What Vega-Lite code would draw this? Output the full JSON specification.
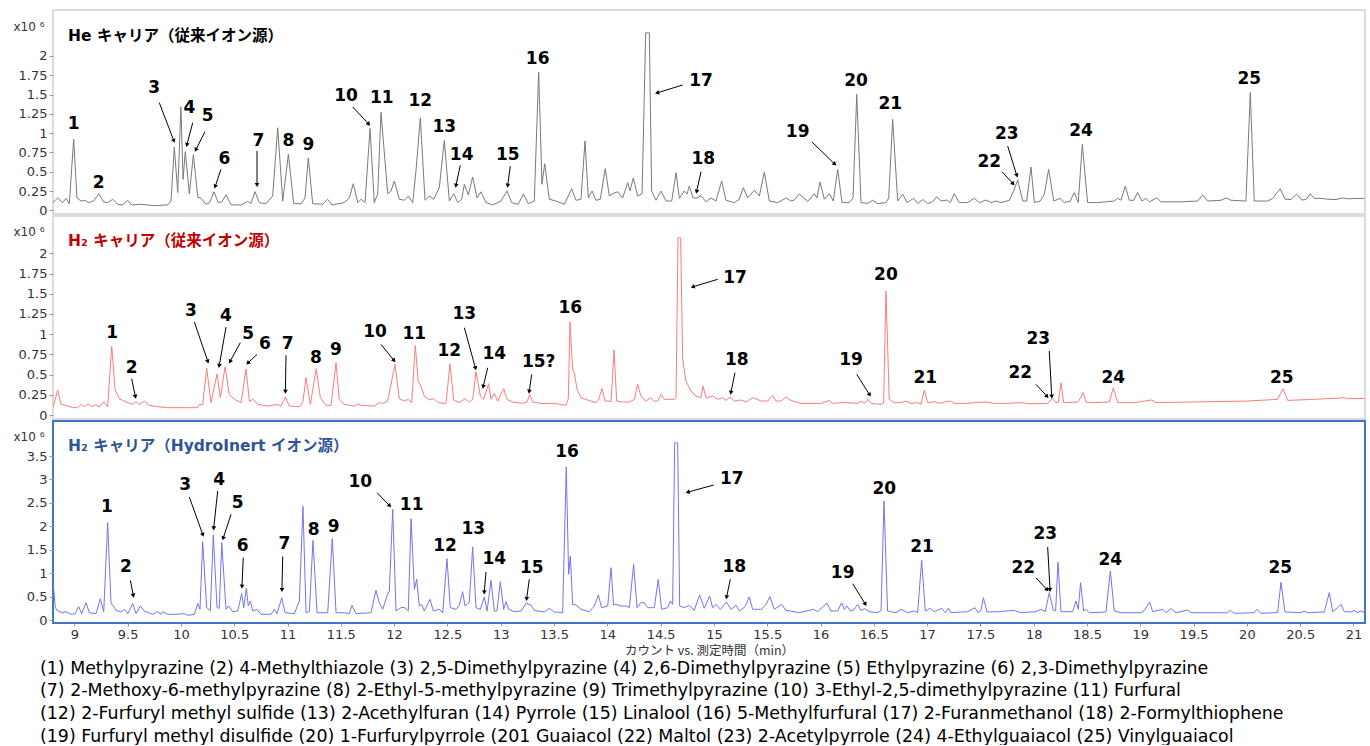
{
"$schema":"https://vega.github.io/schema/vega-lite/v6.json",
"padding":{"left":12,"top":9,"right":5,"bottom":0},
"background":"white",
"spacing":2,
"bounds":"flush",
"config":{"font":"DejaVu Sans","view":{"stroke":null}},
"title":{"text":["(1) Methylpyrazine (2) 4-Methylthiazole (3) 2,5-Dimethylpyrazine (4) 2,6-Dimethylpyrazine (5) Ethylpyrazine (6) 2,3-Dimethylpyrazine","(7) 2-Methoxy-6-methylpyrazine (8) 2-Ethyl-5-methylpyrazine  (9) Trimethylpyrazine (10) 3-Ethyl-2,5-dimethylpyrazine (11) Furfural","(12) 2-Furfuryl methyl sulfide (13) 2-Acethylfuran (14) Pyrrole (15) Linalool (16) 5-Methylfurfural (17) 2-Furanmethanol (18) 2-Formylthiophene","(19) Furfuryl methyl disulfide (20) 1-Furfurylpyrrole (201 Guaiacol (22) Maltol (23) 2-Acetylpyrrole (24) 4-Ethylguaiacol (25) Vinylguaiacol"],"orient":"bottom","anchor":"start","frame":"bounds","dx":28,"offset":2,"fontSize":17.4,"fontWeight":"normal","font":"DejaVu Sans","color":"#000","lineHeight":22.7},
"datasets":{
"he":[{"t":8.80,"v":0.10},{"t":8.844,"v":0.16},{"t":8.891,"v":0.10},{"t":8.922,"v":0.155},{"t":8.953,"v":0.086},{"t":8.994,"v":0.92},{"t":9.025,"v":0.16},{"t":9.063,"v":0.12},{"t":9.10,"v":0.13},{"t":9.131,"v":0.10},{"t":9.18,"v":0.12},{"t":9.23,"v":0.215},{"t":9.276,"v":0.108},{"t":9.313,"v":0.10},{"t":9.36,"v":0.143},{"t":9.407,"v":0.078},{"t":9.454,"v":0.07},{"t":9.50,"v":0.13},{"t":9.538,"v":0.07},{"t":9.626,"v":0.078},{"t":9.75,"v":0.06},{"t":9.876,"v":0.07},{"t":9.907,"v":0.12},{"t":9.938,"v":0.82},{"t":9.97,"v":0.23},{"t":10.0,"v":1.34},{"t":10.02,"v":0.40},{"t":10.041,"v":0.76},{"t":10.079,"v":0.21},{"t":10.117,"v":0.72},{"t":10.158,"v":0.17},{"t":10.19,"v":0.155},{"t":10.235,"v":0.078},{"t":10.27,"v":0.10},{"t":10.31,"v":0.24},{"t":10.35,"v":0.10},{"t":10.383,"v":0.11},{"t":10.423,"v":0.20},{"t":10.47,"v":0.07},{"t":10.564,"v":0.07},{"t":10.627,"v":0.115},{"t":10.657,"v":0.086},{"t":10.695,"v":0.24},{"t":10.735,"v":0.10},{"t":10.798,"v":0.086},{"t":10.861,"v":0.185},{"t":10.908,"v":1.07},{"t":10.955,"v":0.12},{"t":11.008,"v":0.726},{"t":11.058,"v":0.086},{"t":11.127,"v":0.086},{"t":11.164,"v":0.16},{"t":11.195,"v":0.68},{"t":11.236,"v":0.086},{"t":11.33,"v":0.078},{"t":11.377,"v":0.143},{"t":11.417,"v":0.07},{"t":11.533,"v":0.10},{"t":11.58,"v":0.16},{"t":11.617,"v":0.345},{"t":11.659,"v":0.10},{"t":11.69,"v":0.143},{"t":11.727,"v":0.10},{"t":11.774,"v":1.058},{"t":11.814,"v":0.10},{"t":11.846,"v":0.21},{"t":11.877,"v":1.27},{"t":11.94,"v":0.215},{"t":11.971,"v":0.25},{"t":12.002,"v":0.38},{"t":12.049,"v":0.143},{"t":12.096,"v":0.13},{"t":12.133,"v":0.185},{"t":12.175,"v":0.10},{"t":12.205,"v":0.51},{"t":12.246,"v":1.20},{"t":12.29,"v":0.13},{"t":12.33,"v":0.185},{"t":12.371,"v":0.143},{"t":12.424,"v":0.293},{"t":12.471,"v":0.907},{"t":12.518,"v":0.12},{"t":12.559,"v":0.215},{"t":12.597,"v":0.10},{"t":12.634,"v":0.143},{"t":12.659,"v":0.337},{"t":12.696,"v":0.20},{"t":12.737,"v":0.432},{"t":12.778,"v":0.16},{"t":12.815,"v":0.24},{"t":12.862,"v":0.10},{"t":12.925,"v":0.07},{"t":13.003,"v":0.12},{"t":13.059,"v":0.25},{"t":13.103,"v":0.10},{"t":13.165,"v":0.078},{"t":13.212,"v":0.21},{"t":13.259,"v":0.086},{"t":13.315,"v":0.12},{"t":13.356,"v":1.79},{"t":13.387,"v":0.337},{"t":13.413,"v":0.604},{"t":13.456,"v":0.143},{"t":13.519,"v":0.12},{"t":13.597,"v":0.078},{"t":13.666,"v":0.28},{"t":13.706,"v":0.13},{"t":13.753,"v":0.143},{"t":13.791,"v":0.898},{"t":13.822,"v":0.16},{"t":13.857,"v":0.25},{"t":13.894,"v":0.13},{"t":13.934,"v":0.143},{"t":13.981,"v":0.54},{"t":14.019,"v":0.185},{"t":14.05,"v":0.215},{"t":14.097,"v":0.24},{"t":14.144,"v":0.16},{"t":14.191,"v":0.358},{"t":14.213,"v":0.25},{"t":14.244,"v":0.42},{"t":14.285,"v":0.185},{"t":14.326,"v":0.215},{"t":14.36,"v":2.30},{"t":14.394,"v":2.30},{"t":14.416,"v":0.25},{"t":14.457,"v":0.13},{"t":14.504,"v":0.25},{"t":14.551,"v":0.12},{"t":14.604,"v":0.12},{"t":14.645,"v":0.487},{"t":14.676,"v":0.155},{"t":14.722,"v":0.25},{"t":14.748,"v":0.21},{"t":14.77,"v":0.315},{"t":14.801,"v":0.17},{"t":14.832,"v":0.155},{"t":14.879,"v":0.19},{"t":14.926,"v":0.11},{"t":14.973,"v":0.16},{"t":15.02,"v":0.12},{"t":15.073,"v":0.38},{"t":15.113,"v":0.13},{"t":15.191,"v":0.10},{"t":15.238,"v":0.143},{"t":15.276,"v":0.293},{"t":15.317,"v":0.16},{"t":15.379,"v":0.26},{"t":15.426,"v":0.185},{"t":15.473,"v":0.496},{"t":15.52,"v":0.12},{"t":15.598,"v":0.10},{"t":15.677,"v":0.16},{"t":15.723,"v":0.12},{"t":15.754,"v":0.133},{"t":15.801,"v":0.21},{"t":15.88,"v":0.115},{"t":15.942,"v":0.215},{"t":15.967,"v":0.16},{"t":15.995,"v":0.366},{"t":16.036,"v":0.143},{"t":16.083,"v":0.215},{"t":16.12,"v":0.12},{"t":16.161,"v":0.53},{"t":16.202,"v":0.10},{"t":16.27,"v":0.10},{"t":16.305,"v":0.16},{"t":16.34,"v":1.503},{"t":16.38,"v":0.10},{"t":16.443,"v":0.09},{"t":16.49,"v":0.13},{"t":16.537,"v":0.086},{"t":16.614,"v":0.10},{"t":16.64,"v":0.16},{"t":16.677,"v":1.18},{"t":16.724,"v":0.12},{"t":16.771,"v":0.21},{"t":16.811,"v":0.10},{"t":16.874,"v":0.155},{"t":16.912,"v":0.086},{"t":16.959,"v":0.14},{"t":17.006,"v":0.086},{"t":17.052,"v":0.11},{"t":17.09,"v":0.175},{"t":17.13,"v":0.12},{"t":17.187,"v":0.133},{"t":17.218,"v":0.10},{"t":17.255,"v":0.215},{"t":17.302,"v":0.10},{"t":17.381,"v":0.10},{"t":17.443,"v":0.155},{"t":17.49,"v":0.10},{"t":17.553,"v":0.133},{"t":17.60,"v":0.10},{"t":17.646,"v":0.12},{"t":17.693,"v":0.10},{"t":17.771,"v":0.13},{"t":17.812,"v":0.25},{"t":17.85,"v":0.393},{"t":17.897,"v":0.12},{"t":17.934,"v":0.12},{"t":17.975,"v":0.561},{"t":18.006,"v":0.10},{"t":18.062,"v":0.12},{"t":18.10,"v":0.21},{"t":18.14,"v":0.53},{"t":18.188,"v":0.12},{"t":18.247,"v":0.155},{"t":18.287,"v":0.10},{"t":18.343,"v":0.12},{"t":18.381,"v":0.23},{"t":18.418,"v":0.10},{"t":18.456,"v":0.855},{"t":18.506,"v":0.10},{"t":18.60,"v":0.10},{"t":18.756,"v":0.12},{"t":18.788,"v":0.155},{"t":18.819,"v":0.13},{"t":18.859,"v":0.315},{"t":18.897,"v":0.13},{"t":18.938,"v":0.13},{"t":18.975,"v":0.23},{"t":19.016,"v":0.12},{"t":19.053,"v":0.155},{"t":19.085,"v":0.11},{"t":19.157,"v":0.16},{"t":19.194,"v":0.11},{"t":19.382,"v":0.11},{"t":19.538,"v":0.12},{"t":19.585,"v":0.20},{"t":19.632,"v":0.12},{"t":19.757,"v":0.13},{"t":19.804,"v":0.16},{"t":19.851,"v":0.13},{"t":19.991,"v":0.12},{"t":20.032,"v":1.525},{"t":20.069,"v":0.12},{"t":20.195,"v":0.12},{"t":20.242,"v":0.155},{"t":20.313,"v":0.28},{"t":20.358,"v":0.143},{"t":20.414,"v":0.14},{"t":20.467,"v":0.21},{"t":20.514,"v":0.133},{"t":20.554,"v":0.14},{"t":20.595,"v":0.215},{"t":20.632,"v":0.155},{"t":20.695,"v":0.155},{"t":20.758,"v":0.143},{"t":20.836,"v":0.14},{"t":20.899,"v":0.16},{"t":20.946,"v":0.15},{"t":21.102,"v":0.155}],
"h2":[{"t":8.80,"v":0.091},{"t":8.844,"v":0.309},{"t":8.875,"v":0.132},{"t":8.938,"v":0.111},{"t":8.985,"v":0.091},{"t":9.032,"v":0.091},{"t":9.063,"v":0.132},{"t":9.094,"v":0.103},{"t":9.131,"v":0.14},{"t":9.163,"v":0.103},{"t":9.204,"v":0.128},{"t":9.235,"v":0.099},{"t":9.276,"v":0.165},{"t":9.313,"v":0.103},{"t":9.351,"v":0.853},{"t":9.382,"v":0.317},{"t":9.422,"v":0.202},{"t":9.485,"v":0.161},{"t":9.548,"v":0.132},{"t":9.579,"v":0.165},{"t":9.61,"v":0.132},{"t":9.657,"v":0.173},{"t":9.704,"v":0.12},{"t":9.782,"v":0.103},{"t":9.876,"v":0.091},{"t":10.032,"v":0.091},{"t":10.158,"v":0.091},{"t":10.173,"v":0.132},{"t":10.204,"v":0.132},{"t":10.242,"v":0.577},{"t":10.282,"v":0.153},{"t":10.339,"v":0.507},{"t":10.37,"v":0.214},{"t":10.414,"v":0.594},{"t":10.454,"v":0.256},{"t":10.501,"v":0.194},{"t":10.564,"v":0.153},{"t":10.611,"v":0.569},{"t":10.642,"v":0.173},{"t":10.679,"v":0.194},{"t":10.72,"v":0.132},{"t":10.814,"v":0.111},{"t":10.908,"v":0.132},{"t":10.939,"v":0.111},{"t":10.98,"v":0.223},{"t":11.017,"v":0.111},{"t":11.111,"v":0.103},{"t":11.143,"v":0.153},{"t":11.174,"v":0.462},{"t":11.214,"v":0.132},{"t":11.27,"v":0.573},{"t":11.308,"v":0.214},{"t":11.361,"v":0.12},{"t":11.408,"v":0.12},{"t":11.455,"v":0.647},{"t":11.486,"v":0.186},{"t":11.533,"v":0.132},{"t":11.627,"v":0.111},{"t":11.659,"v":0.14},{"t":11.69,"v":0.12},{"t":11.814,"v":0.111},{"t":11.861,"v":0.153},{"t":11.893,"v":0.144},{"t":11.94,"v":0.173},{"t":12.008,"v":0.627},{"t":12.049,"v":0.202},{"t":12.096,"v":0.173},{"t":12.133,"v":0.194},{"t":12.165,"v":0.153},{"t":12.199,"v":0.862},{"t":12.227,"v":0.40},{"t":12.246,"v":0.379},{"t":12.283,"v":0.235},{"t":12.33,"v":0.186},{"t":12.371,"v":0.202},{"t":12.415,"v":0.153},{"t":12.487,"v":0.144},{"t":12.524,"v":0.635},{"t":12.559,"v":0.186},{"t":12.612,"v":0.153},{"t":12.665,"v":0.202},{"t":12.705,"v":0.161},{"t":12.737,"v":0.194},{"t":12.768,"v":0.536},{"t":12.809,"v":0.235},{"t":12.84,"v":0.194},{"t":12.887,"v":0.388},{"t":12.909,"v":0.194},{"t":12.94,"v":0.268},{"t":12.971,"v":0.173},{"t":13.028,"v":0.326},{"t":13.059,"v":0.194},{"t":13.112,"v":0.161},{"t":13.206,"v":0.144},{"t":13.247,"v":0.161},{"t":13.272,"v":0.252},{"t":13.3,"v":0.161},{"t":13.378,"v":0.144},{"t":13.503,"v":0.144},{"t":13.613,"v":0.12},{"t":13.634,"v":0.2},{"t":13.65,"v":1.15},{"t":13.675,"v":0.557},{"t":13.69,"v":0.524},{"t":13.716,"v":0.317},{"t":13.753,"v":0.214},{"t":13.815,"v":0.186},{"t":13.894,"v":0.153},{"t":13.916,"v":0.181},{"t":13.95,"v":0.326},{"t":13.979,"v":0.173},{"t":14.035,"v":0.169},{"t":14.063,"v":0.804},{"t":14.088,"v":0.173},{"t":14.144,"v":0.161},{"t":14.207,"v":0.161},{"t":14.254,"v":0.194},{"t":14.284,"v":0.379},{"t":14.316,"v":0.235},{"t":14.363,"v":0.173},{"t":14.406,"v":0.214},{"t":14.435,"v":0.173},{"t":14.473,"v":0.173},{"t":14.504,"v":0.256},{"t":14.535,"v":0.194},{"t":14.629,"v":0.194},{"t":14.645,"v":0.214},{"t":14.663,"v":2.19},{"t":14.688,"v":2.19},{"t":14.707,"v":0.689},{"t":14.738,"v":0.42},{"t":14.785,"v":0.297},{"t":14.832,"v":0.235},{"t":14.879,"v":0.214},{"t":14.898,"v":0.359},{"t":14.926,"v":0.214},{"t":14.988,"v":0.235},{"t":15.035,"v":0.194},{"t":15.082,"v":0.214},{"t":15.113,"v":0.181},{"t":15.154,"v":0.223},{"t":15.191,"v":0.173},{"t":15.254,"v":0.186},{"t":15.301,"v":0.161},{"t":15.363,"v":0.214},{"t":15.395,"v":0.202},{"t":15.441,"v":0.173},{"t":15.504,"v":0.173},{"t":15.551,"v":0.243},{"t":15.582,"v":0.173},{"t":15.629,"v":0.173},{"t":15.676,"v":0.223},{"t":15.723,"v":0.181},{"t":15.817,"v":0.144},{"t":16.005,"v":0.144},{"t":16.083,"v":0.181},{"t":16.114,"v":0.144},{"t":16.193,"v":0.153},{"t":16.255,"v":0.153},{"t":16.348,"v":0.144},{"t":16.386,"v":0.173},{"t":16.411,"v":0.144},{"t":16.442,"v":0.194},{"t":16.474,"v":0.144},{"t":16.568,"v":0.132},{"t":16.592,"v":0.15},{"t":16.614,"v":1.534},{"t":16.645,"v":0.194},{"t":16.692,"v":0.153},{"t":16.755,"v":0.153},{"t":16.802,"v":0.173},{"t":16.849,"v":0.144},{"t":16.911,"v":0.153},{"t":16.943,"v":0.132},{"t":16.974,"v":0.309},{"t":17.004,"v":0.153},{"t":17.067,"v":0.165},{"t":17.13,"v":0.144},{"t":17.161,"v":0.161},{"t":17.218,"v":0.173},{"t":17.255,"v":0.144},{"t":17.38,"v":0.144},{"t":17.443,"v":0.153},{"t":17.553,"v":0.161},{"t":17.63,"v":0.144},{"t":17.755,"v":0.144},{"t":17.865,"v":0.153},{"t":17.975,"v":0.14},{"t":18.131,"v":0.144},{"t":18.178,"v":0.202},{"t":18.209,"v":0.153},{"t":18.231,"v":0.16},{"t":18.256,"v":0.40},{"t":18.281,"v":0.153},{"t":18.412,"v":0.161},{"t":18.428,"v":0.186},{"t":18.465,"v":0.276},{"t":18.49,"v":0.161},{"t":18.568,"v":0.153},{"t":18.709,"v":0.161},{"t":18.747,"v":0.338},{"t":18.788,"v":0.153},{"t":18.944,"v":0.153},{"t":19.107,"v":0.186},{"t":19.147,"v":0.153},{"t":19.476,"v":0.161},{"t":20.007,"v":0.173},{"t":20.288,"v":0.194},{"t":20.339,"v":0.326},{"t":20.382,"v":0.181},{"t":20.632,"v":0.194},{"t":20.914,"v":0.214},{"t":20.945,"v":0.202},{"t":21.108,"v":0.206}],
"hi":[{"t":8.80,"v":0.83},{"t":8.822,"v":0.263},{"t":8.844,"v":0.192},{"t":8.891,"v":0.156},{"t":8.922,"v":0.178},{"t":8.969,"v":0.121},{"t":9.007,"v":0.135},{"t":9.041,"v":0.284},{"t":9.069,"v":0.135},{"t":9.11,"v":0.37},{"t":9.141,"v":0.156},{"t":9.204,"v":0.135},{"t":9.244,"v":0.455},{"t":9.276,"v":0.178},{"t":9.313,"v":2.077},{"t":9.344,"v":0.37},{"t":9.391,"v":0.206},{"t":9.438,"v":0.171},{"t":9.469,"v":0.228},{"t":9.501,"v":0.135},{"t":9.548,"v":0.349},{"t":9.579,"v":0.135},{"t":9.619,"v":0.299},{"t":9.657,"v":0.192},{"t":9.735,"v":0.121},{"t":9.782,"v":0.178},{"t":9.813,"v":0.121},{"t":9.829,"v":0.178},{"t":9.876,"v":0.121},{"t":9.938,"v":0.121},{"t":10.032,"v":0.135},{"t":10.064,"v":0.1},{"t":10.126,"v":0.121},{"t":10.158,"v":0.349},{"t":10.179,"v":0.228},{"t":10.204,"v":1.672},{"t":10.242,"v":0.263},{"t":10.276,"v":0.2},{"t":10.304,"v":1.814},{"t":10.339,"v":0.263},{"t":10.36,"v":0.25},{"t":10.383,"v":1.65},{"t":10.423,"v":0.228},{"t":10.448,"v":0.299},{"t":10.486,"v":0.178},{"t":10.533,"v":0.192},{"t":10.57,"v":0.562},{"t":10.589,"v":0.263},{"t":10.614,"v":0.676},{"t":10.632,"v":0.299},{"t":10.651,"v":0.405},{"t":10.674,"v":0.192},{"t":10.714,"v":0.228},{"t":10.751,"v":0.121},{"t":10.845,"v":0.121},{"t":10.876,"v":0.228},{"t":10.902,"v":0.135},{"t":10.946,"v":0.477},{"t":10.977,"v":0.156},{"t":11.064,"v":0.135},{"t":11.111,"v":0.405},{"t":11.145,"v":2.426},{"t":11.174,"v":0.156},{"t":11.205,"v":0.18},{"t":11.239,"v":1.7},{"t":11.277,"v":0.156},{"t":11.377,"v":0.156},{"t":11.42,"v":1.736},{"t":11.455,"v":0.156},{"t":11.533,"v":0.156},{"t":11.58,"v":0.135},{"t":11.605,"v":0.313},{"t":11.643,"v":0.135},{"t":11.783,"v":0.156},{"t":11.83,"v":0.633},{"t":11.861,"v":0.37},{"t":11.893,"v":0.228},{"t":11.933,"v":0.512},{"t":11.955,"v":0.619},{"t":11.987,"v":2.362},{"t":12.018,"v":0.192},{"t":12.065,"v":0.263},{"t":12.096,"v":0.27},{"t":12.133,"v":0.192},{"t":12.159,"v":2.163},{"t":12.19,"v":0.654},{"t":12.212,"v":0.868},{"t":12.236,"v":0.299},{"t":12.259,"v":0.334},{"t":12.283,"v":0.192},{"t":12.337,"v":0.441},{"t":12.368,"v":0.192},{"t":12.424,"v":0.228},{"t":12.456,"v":0.156},{"t":12.496,"v":1.309},{"t":12.527,"v":0.263},{"t":12.581,"v":0.228},{"t":12.612,"v":0.32},{"t":12.643,"v":0.605},{"t":12.665,"v":0.299},{"t":12.69,"v":0.349},{"t":12.705,"v":0.37},{"t":12.737,"v":1.558},{"t":12.768,"v":0.263},{"t":12.809,"v":0.228},{"t":12.846,"v":0.491},{"t":12.872,"v":0.192},{"t":12.909,"v":0.847},{"t":12.94,"v":0.192},{"t":12.965,"v":0.192},{"t":12.996,"v":0.818},{"t":13.028,"v":0.228},{"t":13.05,"v":0.391},{"t":13.075,"v":0.228},{"t":13.128,"v":0.178},{"t":13.191,"v":0.192},{"t":13.244,"v":0.37},{"t":13.263,"v":0.32},{"t":13.279,"v":0.334},{"t":13.315,"v":0.206},{"t":13.409,"v":0.171},{"t":13.456,"v":0.249},{"t":13.503,"v":0.171},{"t":13.581,"v":0.156},{"t":13.615,"v":3.265},{"t":13.637,"v":0.975},{"t":13.653,"v":1.366},{"t":13.675,"v":0.334},{"t":13.706,"v":0.32},{"t":13.753,"v":0.228},{"t":13.831,"v":0.178},{"t":13.878,"v":0.299},{"t":13.916,"v":0.534},{"t":13.947,"v":0.263},{"t":14.004,"v":0.299},{"t":14.035,"v":1.117},{"t":14.059,"v":0.32},{"t":14.082,"v":0.334},{"t":14.129,"v":0.299},{"t":14.176,"v":0.299},{"t":14.207,"v":0.263},{"t":14.247,"v":1.188},{"t":14.279,"v":0.263},{"t":14.316,"v":0.37},{"t":14.347,"v":0.37},{"t":14.378,"v":0.263},{"t":14.441,"v":0.263},{"t":14.478,"v":0.868},{"t":14.509,"v":0.228},{"t":14.566,"v":0.263},{"t":14.591,"v":0.405},{"t":14.613,"v":0.334},{"t":14.632,"v":3.78},{"t":14.66,"v":3.78},{"t":14.679,"v":0.299},{"t":14.723,"v":0.263},{"t":14.77,"v":0.313},{"t":14.816,"v":0.206},{"t":14.866,"v":0.534},{"t":14.91,"v":0.249},{"t":14.96,"v":0.512},{"t":14.988,"v":0.263},{"t":15.02,"v":0.334},{"t":15.061,"v":0.228},{"t":15.117,"v":0.384},{"t":15.161,"v":0.228},{"t":15.208,"v":0.313},{"t":15.239,"v":0.192},{"t":15.292,"v":0.284},{"t":15.332,"v":0.491},{"t":15.363,"v":0.228},{"t":15.448,"v":0.228},{"t":15.489,"v":0.334},{"t":15.526,"v":0.498},{"t":15.566,"v":0.228},{"t":15.635,"v":0.334},{"t":15.676,"v":0.206},{"t":15.801,"v":0.156},{"t":15.935,"v":0.228},{"t":15.973,"v":0.178},{"t":16.061,"v":0.36},{"t":16.098,"v":0.192},{"t":16.161,"v":0.192},{"t":16.198,"v":0.37},{"t":16.224,"v":0.228},{"t":16.249,"v":0.299},{"t":16.28,"v":0.192},{"t":16.318,"v":0.228},{"t":16.348,"v":0.334},{"t":16.379,"v":0.206},{"t":16.417,"v":0.242},{"t":16.457,"v":0.178},{"t":16.535,"v":0.156},{"t":16.568,"v":0.2},{"t":16.596,"v":2.54},{"t":16.629,"v":0.192},{"t":16.708,"v":0.156},{"t":16.755,"v":0.228},{"t":16.817,"v":0.156},{"t":16.88,"v":0.192},{"t":16.911,"v":0.156},{"t":16.949,"v":1.273},{"t":16.983,"v":0.192},{"t":17.03,"v":0.249},{"t":17.067,"v":0.178},{"t":17.136,"v":0.249},{"t":17.171,"v":0.156},{"t":17.199,"v":0.249},{"t":17.224,"v":0.156},{"t":17.38,"v":0.178},{"t":17.449,"v":0.263},{"t":17.48,"v":0.156},{"t":17.505,"v":0.2},{"t":17.528,"v":0.477},{"t":17.562,"v":0.171},{"t":17.677,"v":0.178},{"t":17.74,"v":0.192},{"t":17.818,"v":0.206},{"t":17.881,"v":0.156},{"t":18.022,"v":0.178},{"t":18.068,"v":0.228},{"t":18.109,"v":0.178},{"t":18.146,"v":0.583},{"t":18.184,"v":0.206},{"t":18.206,"v":0.2},{"t":18.228,"v":1.231},{"t":18.256,"v":0.178},{"t":18.365,"v":0.178},{"t":18.397,"v":0.405},{"t":18.418,"v":0.228},{"t":18.44,"v":0.797},{"t":18.468,"v":0.192},{"t":18.49,"v":0.228},{"t":18.521,"v":0.156},{"t":18.678,"v":0.17},{"t":18.719,"v":1.046},{"t":18.756,"v":0.192},{"t":18.819,"v":0.156},{"t":19.006,"v":0.156},{"t":19.038,"v":0.206},{"t":19.088,"v":0.384},{"t":19.116,"v":0.178},{"t":19.21,"v":0.228},{"t":19.241,"v":0.156},{"t":19.288,"v":0.242},{"t":19.335,"v":0.156},{"t":19.444,"v":0.213},{"t":19.476,"v":0.156},{"t":19.819,"v":0.156},{"t":19.844,"v":0.206},{"t":19.882,"v":0.142},{"t":20.069,"v":0.156},{"t":20.094,"v":0.228},{"t":20.131,"v":0.142},{"t":20.288,"v":0.16},{"t":20.32,"v":0.804},{"t":20.357,"v":0.171},{"t":20.507,"v":0.156},{"t":20.538,"v":0.192},{"t":20.569,"v":0.156},{"t":20.726,"v":0.171},{"t":20.773,"v":0.583},{"t":20.805,"v":0.178},{"t":20.852,"v":0.263},{"t":20.883,"v":0.334},{"t":20.914,"v":0.178},{"t":20.977,"v":0.171},{"t":21.008,"v":0.206},{"t":21.039,"v":0.156},{"t":21.064,"v":0.192},{"t":21.108,"v":0.156}],
"heLab":[{"label":"1","t":8.994,"v":1.115},{"label":"2","t":9.229,"v":0.358},{"label":"3","t":9.75,"v":1.58},{"label":"4","t":10.079,"v":1.33},{"label":"5","t":10.251,"v":1.222},{"label":"6","t":10.407,"v":0.661},{"label":"7","t":10.726,"v":0.898},{"label":"8","t":11.008,"v":0.898},{"label":"9","t":11.195,"v":0.846},{"label":"10","t":11.549,"v":1.481},{"label":"11","t":11.884,"v":1.452},{"label":"12","t":12.246,"v":1.417},{"label":"13","t":12.471,"v":1.08},{"label":"14","t":12.634,"v":0.717},{"label":"15","t":13.066,"v":0.717},{"label":"16","t":13.347,"v":1.957},{"label":"17","t":14.879,"v":1.676},{"label":"18","t":14.901,"v":0.661},{"label":"19","t":15.786,"v":1.015},{"label":"20","t":16.333,"v":1.676},{"label":"21","t":16.655,"v":1.374},{"label":"22","t":17.584,"v":0.626},{"label":"23","t":17.747,"v":0.985},{"label":"24","t":18.444,"v":1.028},{"label":"25","t":20.023,"v":1.698}],
"heArr":[{"t":9.797,"v":1.395,"t2":9.932,"v2":0.907},{"t":10.111,"v":1.135,"t2":10.057,"v2":0.855},{"t":10.226,"v":1.019,"t2":10.142,"v2":0.79},{"t":10.376,"v":0.531,"t2":10.323,"v2":0.315},{"t":10.714,"v":0.769,"t2":10.714,"v2":0.337},{"t":11.612,"v":1.339,"t2":11.758,"v2":1.123},{"t":12.621,"v":0.583,"t2":12.581,"v2":0.328},{"t":13.09,"v":0.574,"t2":13.066,"v2":0.328},{"t":14.707,"v":1.624,"t2":14.473,"v2":1.524},{"t":14.879,"v":0.5,"t2":14.839,"v2":0.25},{"t":15.92,"v":0.885,"t2":16.13,"v2":0.604},{"t":17.703,"v":0.5,"t2":17.803,"v2":0.35},{"t":17.756,"v":0.833,"t2":17.84,"v2":0.458}],
"h2Lab":[{"label":"1","t":9.354,"v":1.01},{"label":"2","t":9.538,"v":0.585},{"label":"3","t":10.095,"v":1.286},{"label":"4","t":10.423,"v":1.224},{"label":"5","t":10.632,"v":1.006},{"label":"6","t":10.789,"v":0.882},{"label":"7","t":11.002,"v":0.882},{"label":"8","t":11.267,"v":0.709},{"label":"9","t":11.455,"v":0.804},{"label":"10","t":11.821,"v":1.03},{"label":"11","t":12.19,"v":0.998},{"label":"12","t":12.518,"v":0.792},{"label":"13","t":12.659,"v":1.245},{"label":"14","t":12.94,"v":0.75},{"label":"15?","t":13.356,"v":0.656},{"label":"16","t":13.653,"v":1.327},{"label":"17","t":15.198,"v":1.691},{"label":"18","t":15.214,"v":0.68},{"label":"19","t":16.286,"v":0.68},{"label":"20","t":16.614,"v":1.728},{"label":"21","t":16.983,"v":0.461},{"label":"22","t":17.874,"v":0.523},{"label":"23","t":18.043,"v":0.944},{"label":"24","t":18.747,"v":0.461},{"label":"25","t":20.327,"v":0.461}],
"h2Arr":[{"t":9.538,"v":0.449,"t2":9.572,"v2":0.235},{"t":10.126,"v":1.15,"t2":10.251,"v2":0.668},{"t":10.423,"v":1.088,"t2":10.36,"v2":0.615},{"t":10.557,"v":0.894,"t2":10.463,"v2":0.668},{"t":10.714,"v":0.75,"t2":10.632,"v2":0.647},{"t":10.986,"v":0.738,"t2":10.98,"v2":0.297},{"t":11.877,"v":0.874,"t2":11.996,"v2":0.68},{"t":12.659,"v":1.08,"t2":12.762,"v2":0.585},{"t":12.878,"v":0.585,"t2":12.837,"v2":0.359},{"t":13.291,"v":0.503,"t2":13.268,"v2":0.297},{"t":15.036,"v":1.678,"t2":14.807,"v2":1.587},{"t":15.198,"v":0.523,"t2":15.16,"v2":0.284},{"t":16.34,"v":0.503,"t2":16.458,"v2":0.256},{"t":18.021,"v":0.38,"t2":18.122,"v2":0.235},{"t":18.146,"v":0.792,"t2":18.169,"v2":0.235}],
"hiLab":[{"label":"1","t":9.307,"v":2.411},{"label":"2","t":9.485,"v":1.131},{"label":"3","t":10.041,"v":2.881},{"label":"4","t":10.36,"v":2.988},{"label":"5","t":10.533,"v":2.503},{"label":"6","t":10.58,"v":1.579},{"label":"7","t":10.97,"v":1.628},{"label":"8","t":11.246,"v":1.921},{"label":"9","t":11.433,"v":1.985},{"label":"10","t":11.683,"v":2.951},{"label":"11","t":12.165,"v":2.447},{"label":"12","t":12.477,"v":1.579},{"label":"13","t":12.743,"v":1.935},{"label":"14","t":12.94,"v":1.308},{"label":"15","t":13.291,"v":1.116},{"label":"16","t":13.622,"v":3.585},{"label":"17","t":15.167,"v":3.002},{"label":"18","t":15.191,"v":1.137},{"label":"19","t":16.208,"v":1.01},{"label":"20","t":16.599,"v":2.803},{"label":"21","t":16.952,"v":1.558},{"label":"22","t":17.902,"v":1.103},{"label":"23","t":18.109,"v":1.829},{"label":"24","t":18.719,"v":1.274},{"label":"25","t":20.313,"v":1.103}],
"hiArr":[{"t":9.525,"v":0.847,"t2":9.553,"v2":0.534},{"t":10.079,"v":2.625,"t2":10.204,"v2":1.829},{"t":10.345,"v":2.753,"t2":10.308,"v2":1.97},{"t":10.47,"v":2.256,"t2":10.398,"v2":1.756},{"t":10.585,"v":1.33,"t2":10.573,"v2":0.726},{"t":10.955,"v":1.358,"t2":10.948,"v2":0.655},{"t":11.84,"v":2.717,"t2":11.955,"v2":2.447},{"t":12.862,"v":1.024,"t2":12.846,"v2":0.604},{"t":13.268,"v":0.868,"t2":13.244,"v2":0.463},{"t":14.998,"v":2.881,"t2":14.76,"v2":2.732},{"t":15.154,"v":0.868,"t2":15.12,"v2":0.497},{"t":16.302,"v":0.775,"t2":16.418,"v2":0.348},{"t":18.021,"v":0.903,"t2":18.122,"v2":0.655},{"t":18.131,"v":1.558,"t2":18.153,"v2":0.655}]
},
"vconcat":[
{"width":1312,"height":204,"view":{"stroke":"#dcdcdc","strokeWidth":2},
"encoding":{"x":{"field":"t","type":"quantitative","scale":{"domain":[8.8,21.108],"nice":false,"zero":false},"axis":null},
"y":{"field":"v","type":"quantitative","scale":{"domain":[-0.048,2.596],"nice":false,"zero":false},"axis":{"values":[0,0.25,0.5,0.75,1,1.25,1.5,1.75,2],"format":".4~g","title":"x10 ⁶","titleAngle":0,"titleAlign":"left","titleBaseline":"middle","titleX":-40,"titleY":16,"titleFontSize":12,"titleFontWeight":"normal","titleColor":"#333","grid":false,"domain":false,"tickSize":4,"tickColor":"#999","labelFontSize":13,"labelColor":"#333","labelPadding":2}}},
"layer":[
{"data":{"name":"he"},"mark":{"type":"line","color":"#7a7a7a","strokeWidth":1,"clip":true}},
{"data":{"name":"heArr"},"mark":{"type":"rule","color":"#000","strokeWidth":1},"encoding":{"x2":{"field":"t2"},"y2":{"field":"v2"}}},
{"data":{"name":"heArr"},"transform":[{"calculate":"atan2((datum.t2-datum.t)*106.6,(datum.v2-datum.v)*77.15)*180/PI","as":"ang"},{"calculate":"datum.t2","as":"t"},{"calculate":"datum.v2","as":"v"}],"mark":{"type":"point","shape":"triangle","filled":true,"size":22,"color":"#000","opacity":1},"encoding":{"angle":{"field":"ang","type":"quantitative","scale":null}}},
{"data":{"name":"heLab"},"mark":{"type":"text","fontSize":17,"fontWeight":"bold","color":"#000","align":"center","baseline":"middle"},"encoding":{"text":{"field":"label"}}},
{"data":{"values":[{"t":8.941,"v":2.259,"label":"He キャリア（従来イオン源）"}]},"mark":{"type":"text","fontSize":15.5,"fontWeight":"bold","color":"#000","align":"left","baseline":"middle","font":"DejaVu Sans, Noto Sans CJK JP"},"encoding":{"text":{"field":"label"}}}
]},
{"width":1312,"height":203,"view":{"stroke":"#dcdcdc","strokeWidth":2},
"encoding":{"x":{"field":"t","type":"quantitative","scale":{"domain":[8.8,21.108],"nice":false,"zero":false},"axis":null},
"y":{"field":"v","type":"quantitative","scale":{"domain":[-0.049,2.461],"nice":false,"zero":false},"axis":{"values":[0,0.25,0.5,0.75,1,1.25,1.5,1.75,2],"format":".4~g","title":"x10 ⁶","titleAngle":0,"titleAlign":"left","titleBaseline":"middle","titleX":-40,"titleY":15,"titleFontSize":12,"titleFontWeight":"normal","titleColor":"#333","grid":false,"domain":false,"tickSize":4,"tickColor":"#999","labelFontSize":13,"labelColor":"#333","labelPadding":2}}},
"layer":[
{"data":{"name":"h2"},"mark":{"type":"line","color":"#ff7b7b","strokeWidth":1,"clip":true}},
{"data":{"name":"h2Arr"},"mark":{"type":"rule","color":"#000","strokeWidth":1},"encoding":{"x2":{"field":"t2"},"y2":{"field":"v2"}}},
{"data":{"name":"h2Arr"},"transform":[{"calculate":"atan2((datum.t2-datum.t)*106.6,(datum.v2-datum.v)*80.85)*180/PI","as":"ang"},{"calculate":"datum.t2","as":"t"},{"calculate":"datum.v2","as":"v"}],"mark":{"type":"point","shape":"triangle","filled":true,"size":22,"color":"#000","opacity":1},"encoding":{"angle":{"field":"ang","type":"quantitative","scale":null}}},
{"data":{"name":"h2Lab"},"mark":{"type":"text","fontSize":17,"fontWeight":"bold","color":"#000","align":"center","baseline":"middle"},"encoding":{"text":{"field":"label"}}},
{"data":{"values":[{"t":8.941,"v":2.152,"label":"H₂ キャリア（従来イオン源）"}]},"mark":{"type":"text","fontSize":15.5,"fontWeight":"bold","color":"#c00000","align":"left","baseline":"middle","font":"DejaVu Sans, Noto Sans CJK JP"},"encoding":{"text":{"field":"label"}}}
]},
{"width":1312,"height":202,"view":{"stroke":"#4472c4","strokeWidth":2},
"encoding":{"x":{"field":"t","type":"quantitative","scale":{"domain":[8.8,21.108],"nice":false,"zero":false},"axis":{"values":[9,9.5,10,10.5,11,11.5,12,12.5,13,13.5,14,14.5,15,15.5,16,16.5,17,17.5,18,18.5,19,19.5,20,20.5,21],"format":".4~g","title":"カウント vs. 測定時間（min）","titleFont":"Noto Sans CJK JP","titleFontSize":12.5,"titleFontWeight":"normal","titleColor":"#333","titlePadding":3,"grid":false,"domain":false,"tickSize":3,"tickColor":"#999","labelFontSize":13,"labelColor":"#333","labelPadding":2}},
"y":{"field":"v","type":"quantitative","scale":{"domain":[-0.064,4.247],"nice":false,"zero":false},"axis":{"values":[0,0.5,1,1.5,2,2.5,3,3.5],"format":".4~g","title":"x10 ⁶","titleAngle":0,"titleAlign":"left","titleBaseline":"middle","titleX":-40,"titleY":15,"titleFontSize":12,"titleFontWeight":"normal","titleColor":"#333","grid":false,"domain":false,"tickSize":4,"tickColor":"#999","labelFontSize":13,"labelColor":"#333","labelPadding":2}}},
"layer":[
{"data":{"name":"hi"},"mark":{"type":"line","color":"#7474f2","strokeWidth":1,"clip":true}},
{"data":{"name":"hiArr"},"mark":{"type":"rule","color":"#000","strokeWidth":1},"encoding":{"x2":{"field":"t2"},"y2":{"field":"v2"}}},
{"data":{"name":"hiArr"},"transform":[{"calculate":"atan2((datum.t2-datum.t)*106.6,(datum.v2-datum.v)*46.86)*180/PI","as":"ang"},{"calculate":"datum.t2","as":"t"},{"calculate":"datum.v2","as":"v"}],"mark":{"type":"point","shape":"triangle","filled":true,"size":22,"color":"#000","opacity":1},"encoding":{"angle":{"field":"ang","type":"quantitative","scale":null}}},
{"data":{"name":"hiLab"},"mark":{"type":"text","fontSize":17,"fontWeight":"bold","color":"#000","align":"center","baseline":"middle"},"encoding":{"text":{"field":"label"}}},
{"data":{"values":[{"t":8.941,"v":3.713,"label":"H₂ キャリア（HydroInert イオン源）"}]},"mark":{"type":"text","fontSize":15.5,"fontWeight":"bold","color":"#2f5597","align":"left","baseline":"middle","font":"DejaVu Sans, Noto Sans CJK JP"},"encoding":{"text":{"field":"label"}}}
]}
]
}
